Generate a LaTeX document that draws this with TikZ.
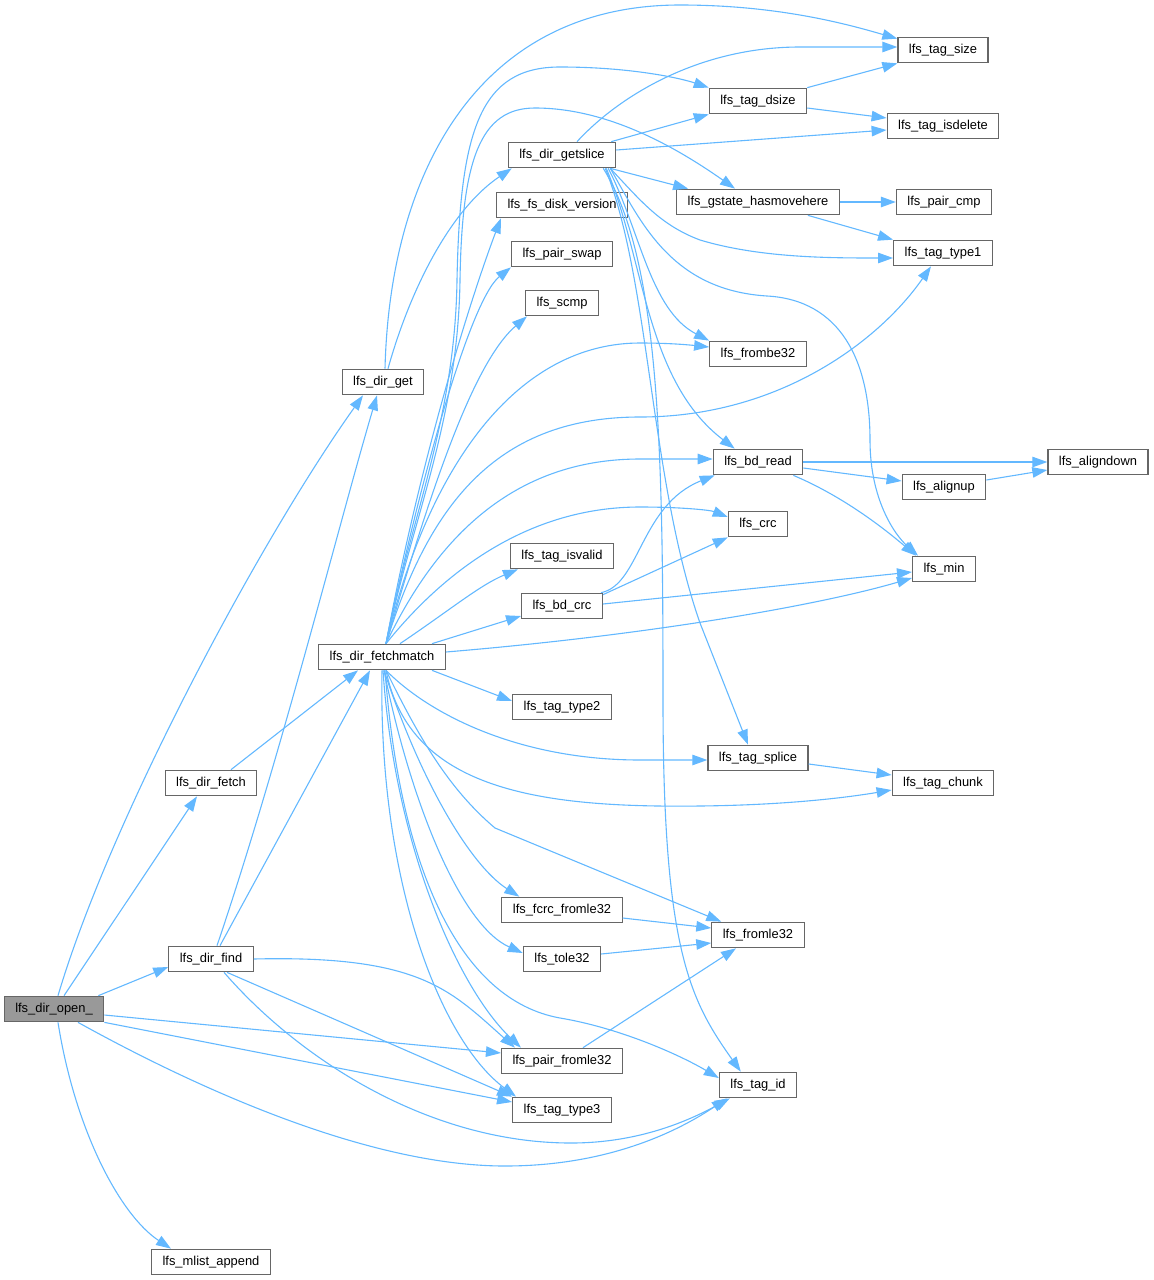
\documentclass[tikz,border=0pt]{standalone}
\usepackage{fontspec}
\setmainfont{Liberation Sans}
\usetikzlibrary{arrows.meta}
\definecolor{callblue}{HTML}{63B8FF}
\definecolor{boxgray}{HTML}{666666}
\definecolor{rootgray}{HTML}{999999}
\tikzset{
  fn/.style={draw=boxgray, line width=1.2pt, fill=white, inner xsep=11pt, inner ysep=0pt,
    minimum height=25.5pt, text height=9.6pt, text depth=2.9pt, font=\fontsize{12.9}{14}\selectfont},
  rootfn/.style={fn, fill=rootgray},
  call/.style={->, draw=callblue, line width=1.1pt},
}
\begin{document}
\begin{tikzpicture}[>={Triangle[length=15pt,width=10.5pt]}, x=1pt, y=-1pt]
    \useasboundingbox (0,0) rectangle (1154,1280);
    \node[rootfn] (dirOpen) at (54,1009) {lfs\_dir\_open\_};
    \node[fn] (mlistAppend) at (211,1262) {lfs\_mlist\_append};
    \node[fn] (dirFind) at (211,959) {lfs\_dir\_find};
    \node[fn] (dirFetch) at (211,783) {lfs\_dir\_fetch};
    \node[fn] (fetchmatch) at (382,657) {lfs\_dir\_fetchmatch};
    \node[fn] (dirGet) at (383,382) {lfs\_dir\_get};
    \node[fn] (getslice) at (562,155) {lfs\_dir\_getslice};
    \node[fn] (diskVersion) at (562,205) {lfs\_fs\_disk\_version};
    \node[fn] (pairSwap) at (562,254) {lfs\_pair\_swap};
    \node[fn] (scmp) at (562,303) {lfs\_scmp};
    \node[fn] (tagIsvalid) at (562,556) {lfs\_tag\_isvalid};
    \node[fn] (bdCrc) at (562,606) {lfs\_bd\_crc};
    \node[fn] (tagType2) at (562,707) {lfs\_tag\_type2};
    \node[fn] (fcrcFromle32) at (562,910) {lfs\_fcrc\_fromle32};
    \node[fn] (tole32) at (562,959) {lfs\_tole32};
    \node[fn] (pairFromle32) at (562,1061) {lfs\_pair\_fromle32};
    \node[fn] (tagType3) at (562,1110) {lfs\_tag\_type3};
    \node[fn] (tagDsize) at (758,101) {lfs\_tag\_dsize};
    \node[fn] (hasmovehere) at (758,202) {lfs\_gstate\_hasmovehere};
    \node[fn] (frombe32) at (758,354) {lfs\_frombe32};
    \node[fn] (bdRead) at (758,462) {lfs\_bd\_read};
    \node[fn] (crc) at (758,524) {lfs\_crc};
    \node[fn] (tagSplice) at (758,758) {lfs\_tag\_splice};
    \node[fn] (fromle32) at (758,935) {lfs\_fromle32};
    \node[fn] (tagId) at (758,1085) {lfs\_tag\_id};
    \node[fn] (tagSize) at (943,50) {lfs\_tag\_size};
    \node[fn] (isdelete) at (943,126) {lfs\_tag\_isdelete};
    \node[fn] (pairCmp) at (944,202) {lfs\_pair\_cmp};
    \node[fn] (tagType1) at (943,253) {lfs\_tag\_type1};
    \node[fn] (alignup) at (944,487) {lfs\_alignup};
    \node[fn] (min) at (944,569) {lfs\_min};
    \node[fn] (tagChunk) at (943,783) {lfs\_tag\_chunk};
    \node[fn] (aligndown) at (1098,462) {lfs\_aligndown};

    \draw[call] ([xshift=4pt]dirOpen.north) .. controls (110,820) and (260,540) .. ([xshift=-20pt]dirGet.south);
    \draw[call] ([xshift=10pt]dirOpen.north) -- ([xshift=-14pt]dirFetch.south);
    \draw[call] ([xshift=-6pt]dirOpen.north east) -- ([yshift=-8pt]dirFind.west);
    \draw[call] ([yshift=-6pt]dirOpen.east) -- ([yshift=8pt]pairFromle32.west);
    \draw[call] (dirOpen.south east) -- ([yshift=8pt]tagType3.west);
    \draw[call] ([xshift=24pt]dirOpen.south) .. controls (200,1090) and (370,1166) .. (505,1166) .. controls (610,1166) and (680,1130) .. ([xshift=8pt]tagId.south west);
    \draw[call] ([xshift=4pt]dirOpen.south) .. controls (75,1130) and (120,1215) .. ([xshift=-40pt]mlistAppend.north);

    \draw[call] ([xshift=6pt]dirFind.north) .. controls (280,760) and (340,520) .. ([xshift=-6pt]dirGet.south);
    \draw[call] ([xshift=9pt]dirFind.north) -- ([xshift=-12pt]fetchmatch.south);
    \draw[call] (dirFind.east) .. controls (420,955) and (450,990) .. ([xshift=14pt]pairFromle32.north west);
    \draw[call] ([xshift=16pt]dirFind.south) -- (tagType3.north west);
    \draw[call] ([xshift=13pt]dirFind.south) .. controls (300,1060) and (430,1143) .. (571,1143) .. controls (640,1143) and (690,1120) .. ([xshift=11pt]tagId.south west);
    \draw[call] ([xshift=20pt]dirFetch.north) -- ([xshift=-24pt]fetchmatch.south);

    \draw[call] ([xshift=2pt]dirGet.north) .. controls (390,170) and (480,5) .. (680,5) .. controls (780,5) and (850,25) .. ([yshift=-2pt]tagSize.north west);
    \draw[call] ([xshift=5pt]dirGet.north) .. controls (410,290) and (450,210) .. ([xshift=4pt]getslice.south west);

    \draw[call] ([xshift=4pt]fetchmatch.north) .. controls (410,520) and (455,420) .. (457,280) .. controls (460,130) and (480,67) .. (560,67) .. controls (630,67) and (680,78) .. (tagDsize.north west);
    \draw[call] ([xshift=4pt]fetchmatch.north) .. controls (412,520) and (458,420) .. (460,280) .. controls (462,160) and (480,108) .. (535,108) .. controls (610,108) and (680,150) .. ([xshift=-23pt]hasmovehere.north);
    \draw[call] ([xshift=4pt]fetchmatch.north) .. controls (420,460) and (470,300) .. ([xshift=5pt]diskVersion.south west);
    \draw[call] ([xshift=4pt]fetchmatch.north) .. controls (420,480) and (470,300) .. (pairSwap.south west);
    \draw[call] ([xshift=4pt]fetchmatch.north) .. controls (425,510) and (470,365) .. ([xshift=2pt]scmp.south west);
    \draw[call] ([xshift=4pt]fetchmatch.north) .. controls (430,460) and (520,343) .. (640,343) .. controls (670,343) and (690,345) .. ([yshift=7pt]frombe32.west);
    \draw[call] ([xshift=4pt]fetchmatch.north) .. controls (430,500) and (500,417) .. (640,417) .. controls (780,417) and (880,340) .. ([xshift=-12pt]tagType1.south);
    \draw[call] ([xshift=4pt]fetchmatch.north) .. controls (440,530) and (520,459) .. (640,459) -- ([yshift=3pt]bdRead.west);
    \draw[call] ([xshift=4pt]fetchmatch.north) .. controls (445,570) and (530,507) .. (640,507) .. controls (680,507) and (710,510) .. ([yshift=7pt]crc.west);
    \draw[call] ([xshift=18pt]fetchmatch.north) .. controls (450,610) and (480,585) .. ([xshift=8pt]tagIsvalid.south west);
    \draw[call] ([xshift=50pt]fetchmatch.north) -- ([yshift=-10pt]bdCrc.west);
    \draw[call] ([yshift=5pt]fetchmatch.east) .. controls (650,635) and (820,605) .. ([yshift=-9pt]min.west);
    \draw[call] ([xshift=50pt]fetchmatch.south) -- ([yshift=6pt]tagType2.west);
    \draw[call] ([xshift=4pt]fetchmatch.south) .. controls (430,715) and (520,760) .. (640,760) -- ([yshift=-2pt]tagSplice.west);
    \draw[call] ([xshift=4pt]fetchmatch.south) .. controls (410,790) and (540,808) .. (700,806) .. controls (790,805) and (850,797) .. ([yshift=-7pt]tagChunk.west);
    \draw[call] ([xshift=4pt]fetchmatch.south) .. controls (420,740) and (450,790) .. (495,828) -- ([xshift=10pt]fromle32.north west);
    \draw[call] ([xshift=2pt]fetchmatch.south) .. controls (420,780) and (470,865) .. ([xshift=18pt]fcrcFromle32.north west);
    \draw[call] ([xshift=2pt]fetchmatch.south) .. controls (410,800) and (460,925) .. ([yshift=6pt]tole32.west);
    \draw[call] ([xshift=1pt]fetchmatch.south) .. controls (395,850) and (460,990) .. ([xshift=20pt]pairFromle32.north west);
    \draw[call] (fetchmatch.south) .. controls (378,880) and (440,1040) .. ([xshift=4pt]tagType3.north west);
    \draw[call] ([xshift=3pt]fetchmatch.south) .. controls (400,870) and (460,1000) .. (560,1018) .. controls (620,1028) and (680,1055) .. ([yshift=7pt]tagId.west);

    \draw[call] ([xshift=15pt]getslice.north) .. controls (620,95) and (700,47) .. (800,47) -- ([yshift=3pt]tagSize.west);
    \draw[call] ([xshift=-5pt]getslice.north east) -- (tagDsize.south west);
    \draw[call] ([yshift=5pt]getslice.east) -- ([yshift=-4pt]isdelete.west);
    \draw[call] ([xshift=-6pt]getslice.south east) -- ([xshift=12pt]hasmovehere.north west);
    \draw[call] ([xshift=-6pt]getslice.south east) .. controls (640,200) and (660,225) .. (700,240) .. controls (760,258) and (830,258) .. ([yshift=-5pt]tagType1.west);
    \draw[call] ([xshift=-6pt]getslice.south east) .. controls (640,220) and (670,290) .. (767,296) .. controls (840,300) and (870,360) .. (870,440) .. controls (870,500) and (895,535) .. ([xshift=-26pt]min.north);
    \draw[call] ([xshift=-8pt]getslice.south east) .. controls (640,230) and (650,310) .. (frombe32.north west);
    \draw[call] ([xshift=-10pt]getslice.south east) .. controls (645,260) and (645,380) .. ([xshift=22pt]bdRead.north west);
    \draw[call] ([xshift=-11pt]getslice.south east) .. controls (650,280) and (650,480) .. (700,623) -- ([xshift=-10pt]tagSplice.north);
    \draw[call] ([xshift=-13pt]getslice.south east) .. controls (660,260) and (663,450) .. (663,700) .. controls (663,950) and (690,1000) .. ([xshift=22pt]tagId.north west);

    \draw[call] (hasmovehere) -- (pairCmp);
    \draw[call] ([xshift=-32pt]hasmovehere.south east) -- (tagType1.north west);
    \draw[call] (tagDsize.north east) -- (tagSize.south west);
    \draw[call] ([yshift=-7pt]tagDsize.east) -- ([yshift=8pt]isdelete.west);
    \draw[call] (bdRead) -- (aligndown);
    \draw[call] ([yshift=-6pt]bdRead.east) -- ([yshift=6pt]alignup.west);
    \draw[call] ([xshift=-10pt]bdRead.south east) .. controls (840,495) and (880,525) .. ([xshift=-28pt]min.north);
    \draw[call] ([yshift=7pt]alignup.east) -- ([yshift=-8pt]aligndown.west);
    \draw[call] ([xshift=-2pt]bdCrc.north east) .. controls (640,585) and (640,505) .. ([xshift=2pt]bdRead.south west);
    \draw[call] ([yshift=-2pt]bdCrc.north east) -- (crc.south west);
    \draw[call] ([yshift=2pt]bdCrc.east) -- ([yshift=-3pt]min.west);
    \draw[call] ([yshift=-6pt]tagSplice.east) -- ([yshift=8pt]tagChunk.west);
    \draw[call] ([yshift=-8pt]fcrcFromle32.east) -- ([yshift=7pt]fromle32.west);
    \draw[call] ([yshift=5pt]tole32.east) -- ([yshift=-8pt]fromle32.west);
    \draw[call] ([xshift=21pt]pairFromle32.north) -- ([xshift=-22pt]fromle32.south);
\end{tikzpicture}
\end{document}
